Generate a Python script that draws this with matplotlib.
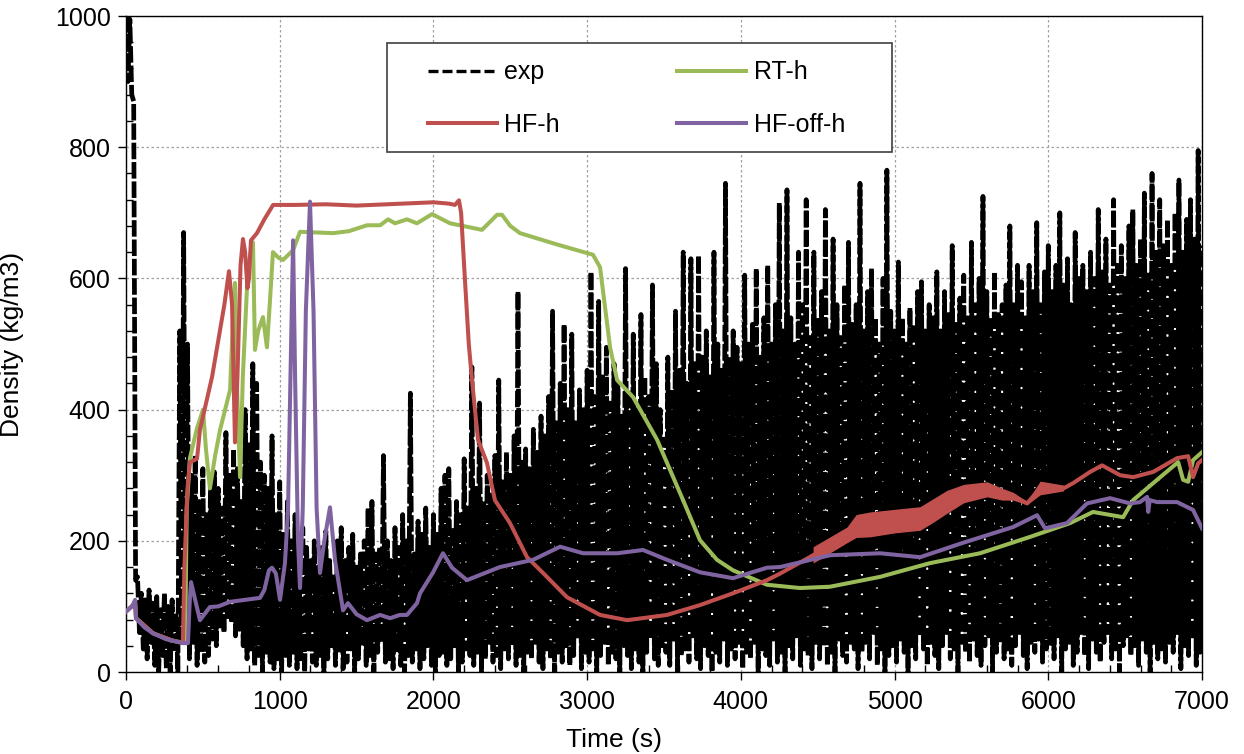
import numpy as np
import matplotlib
matplotlib.use("Agg")
import matplotlib.pyplot as plt
from matplotlib.patches import Rectangle
from matplotlib.ticker import MultipleLocator

plt.rcParams['font.family'] = ['Liberation Sans', 'DejaVu Sans']

# ---------------- data ----------------
exp_step = 25  # s, spacing of read peaks (troughs are in between)
exp_high = [
    1000, 995, 870, 145, 120, 110, 125, 105, 115, 95,
    120, 100, 110, 90, 520, 670, 500, 300, 330, 260,
    310, 240, 290, 305, 280, 250, 365, 300, 340, 310,
    260, 400, 350, 470, 440, 320, 300, 280, 360, 240,
    290, 210, 260, 200, 240, 180, 220, 190, 170, 200,
    160, 190, 215, 170, 150, 200, 220, 170, 190, 210,
    160, 180, 200, 250, 260, 180, 190, 330, 200, 170,
    220, 190, 240, 200, 425, 180, 230, 210, 250, 190,
    240, 210, 280, 300, 310, 220, 260, 240, 325, 250,
    465, 280, 410, 260, 300, 270, 330, 445, 290, 335,
    300, 360, 580, 320, 340, 310, 370, 335, 390, 360,
    420, 550, 380, 440, 530, 400, 515, 380, 430, 400,
    460, 610, 420, 565, 450, 495, 410, 470, 440, 390,
    615, 430, 515, 400, 545, 450, 420, 590, 470, 400,
    355, 480, 430, 550, 460, 640, 440, 630, 470, 635,
    480, 520, 450, 640, 500, 460, 745, 480, 520, 495,
    470, 605, 500, 530, 615, 480, 540, 620, 500, 560,
    715, 520, 735, 540, 500, 640, 560, 720, 510, 640,
    540, 580, 705, 520, 660, 560, 510, 590, 655, 530,
    560, 745, 520, 580, 615, 540, 500, 600, 765, 550,
    520, 625, 540, 500, 555, 530, 580, 595, 520, 560,
    540, 610, 520, 580, 545, 650, 530, 570, 605, 540,
    655, 560, 600, 725, 580, 540, 610, 545, 560, 590,
    680, 560, 620, 595, 540, 620, 580, 685, 560, 610,
    650, 580, 620, 700, 590, 630, 560, 670, 600, 620,
    580, 640, 600, 705, 610, 660, 590, 720, 620, 650,
    600, 680, 705, 620, 660, 730, 610, 760, 640, 720,
    650, 690, 620, 700, 750, 640, 690, 720, 660, 795,
    650,
]
exp_low = [
    900, 880, 140, 60, 35, 20, 45, 10, 0, 25,
    5, 0, 30, 0, 40, 60, 20, 45, 10, 30,
    15, 25, 50, 40, 70, 60, 80, 75, 55, 65,
    40, 20, 35, 10, 25, 0, 30, 15, 5, 20,
    0, 25, 10, 30, 5, 20, 0, 35, 15, 10,
    25, 0, 20, 40, 10, 30, 5, 15, 35, 0,
    20, 40, 10, 25, 0, 30, 45, 15, 20, 5,
    30, 10, 0, 25, 15, 35, 5, 20, 40, 10,
    0, 25, 30, 10, 20, 40, 0, 15, 35, 25,
    10, 30, 0, 20, 45, 15, 25, 5, 35, 20,
    40, 10, 25, 0, 30, 20, 45, 15, 5, 35,
    20, 0, 30, 15, 40, 10, 25, 50, 5, 30,
    15, 35, 0, 25, 45, 10, 30, 20, 0, 40,
    25, 5, 35, 15, 0, 30, 50, 20, 10, 40,
    30, 10, 45, 0, 25, 35, 15, 55, 20, 5,
    40, 25, 0, 30, 15, 50, 10, 35, 20, 45,
    5, 30, 20, 45, 0, 35, 25, 10, 50, 15,
    30, 0, 40, 20, 55, 10, 35, 25, 5, 45,
    20, 40, 10, 30, 0, 50, 25, 15, 45, 35,
    5, 30, 45, 20, 60, 10, 35, 0, 25, 40,
    15, 50, 30, 0, 40, 20, 55, 35, 10, 45,
    25, 5, 40, 60, 20, 35, 0, 45, 30, 15,
    50, 25, 10, 40, 55, 0, 30, 45, 20, 35,
    10, 40, 60, 25, 5, 45, 30, 50, 15, 35,
    40, 20, 55, 0, 35, 45, 10, 30, 60, 25,
    5, 50, 30, 15, 45, 60, 20, 35, 0, 40,
    55, 25, 40, 10, 50, 30, 0, 45, 20, 35,
    15, 45, 30, 60, 5, 40, 25, 50, 10, 30,
]

rt_t = [0, 59, 65, 176, 300, 385, 395, 416, 460, 501, 520, 546, 580, 612, 677, 700,
        709, 720, 742, 760, 794, 826, 839, 860, 891, 917, 935, 956, 990, 1021, 1087,
        1132, 1347, 1450, 1568, 1653, 1705, 1750, 1828, 1893, 1991, 2108, 2316, 2414,
        2446, 2500, 2563, 2800, 3038, 3084, 3149, 3195, 3299, 3455, 3624, 3734, 3845,
        3949, 4170, 4385, 4580, 4905, 5231, 5556, 5882, 6142, 6291, 6487, 6552, 6708,
        6845, 6877, 6910, 6942, 7000]
rt_v = [92, 105, 82, 59, 48, 44, 250, 326, 370, 400, 340, 280, 330, 369, 430, 560,
        593, 450, 297, 450, 620, 655, 491, 520, 541, 495, 560, 640, 632, 628, 643,
        671, 669, 672, 681, 681, 690, 684, 690, 684, 698, 684, 674, 697,
        697, 680, 669, 652, 636, 617, 495, 445, 419, 354, 262, 201, 171,
        155, 133, 128, 130, 145, 166, 181, 206, 227, 244, 236, 262, 293,
        320, 293, 290, 323, 335]

hf_t = [0, 59, 65, 176, 300, 370, 380, 400, 416, 462, 481, 560, 640, 670, 690, 709,
        725, 745, 761, 775, 790, 800, 813, 852, 900, 957, 1100, 1300, 1500, 1700,
        1900, 2000, 2100, 2140, 2166, 2180, 2205, 2230, 2251, 2290, 2348, 2400, 2498,
        2609, 2713, 2869, 3084, 3260, 3520, 3734, 3949, 4170, 4255, 4470, 4690, 4750,
        4840, 5000, 5166, 5250, 5341, 5450, 5602, 5700, 5771, 5862, 5947, 6100, 6162,
        6272, 6350, 6467, 6552, 6682, 6838, 6910, 6942, 6975, 7000]
hf_v = [92, 105, 82, 59, 48, 44, 160, 280, 320, 325, 369, 450, 560, 611, 560, 350,
        450, 620, 660, 640, 585, 600, 658, 669, 690, 712, 712, 713, 711, 713,
        715, 716, 714, 712, 719, 700, 598, 500, 445, 354, 319, 262, 227,
        175, 151, 114, 87, 79, 87, 102, 120, 140, 150, 178, 209, 222,
        225, 230, 234, 246, 260, 272, 278, 271, 268, 257, 280, 280, 288,
        305, 315, 300, 297, 305, 326, 329, 297, 318, 323]
# oscillation band of HF-h (lower / upper envelope)
hf_band_t = [4470, 4690, 4750, 4840, 5000, 5166, 5250, 5341, 5450, 5602, 5700, 5771,
             5862, 5947, 6100]
hf_band_lo = [166, 197, 205, 206, 212, 216, 228, 242, 258, 267, 262, 262,
              255, 270, 276]
hf_band_hi = [191, 221, 240, 244, 248, 252, 264, 277, 286, 290, 280, 274,
              260, 291, 285]

off_t = [0, 40, 59, 65, 120, 176, 260, 371, 403, 415, 423, 450, 481, 510, 546, 600,
         677, 872, 900, 930, 950, 975, 1002, 1034, 1054, 1070, 1087, 1100, 1119, 1132,
         1150, 1170, 1197, 1220, 1240, 1262, 1290, 1327, 1360, 1412, 1444, 1500, 1568,
         1653, 1718, 1782, 1828, 1893, 1913, 1998, 2062, 2121, 2218, 2433, 2648, 2824,
         2973, 3195, 3364, 3520, 3734, 3949, 4170, 4255, 4580, 4905, 5166, 5446, 5771,
         5927, 5979, 6122, 6252, 6402, 6532, 6597, 6643, 6650, 6660, 6708, 6838, 6942,
         7000]
off_v = [92, 100, 110, 82, 68, 59, 50, 44, 44, 110, 137, 110, 79, 88, 99, 100,
         107, 113, 125, 155, 159, 150, 110, 166, 247, 450, 658, 450, 200, 128,
         250, 550, 717, 550, 250, 151, 200, 251, 170, 94, 105, 88, 79,
         87, 82, 87, 87, 105, 120, 152, 181, 159, 140, 160, 171, 191,
         181, 181, 186, 171, 152, 143, 159, 160, 178, 181, 175, 197, 221,
         239, 219, 227, 257, 265, 257, 259, 267, 244, 262, 259, 259, 247,
         219]

x_ticks = [0, 1000, 2000, 3000, 4000, 5000, 6000, 7000]
y_ticks = [0, 200, 400, 600, 800, 1000]

# ---------------- figure ----------------
W, H = 1244, 754
fig = plt.figure(figsize=(W / 100, H / 100), dpi=100)
ax = fig.add_axes([126 / W, 1 - 672 / H, (1202 - 126) / W, (672 - 16) / H])

# exp series: peaks and troughs interleaved
high_t = np.arange(len(exp_high)) * exp_step
low_t = np.arange(len(exp_low)) * exp_step + exp_step / 2
exp_t = np.empty(len(high_t) + len(low_t))
exp_v = np.empty_like(exp_t)
exp_t[0::2] = high_t
exp_t[1::2] = low_t
exp_v[0::2] = exp_high
exp_v[1::2] = exp_low

RED, GREEN, PURPLE = '#C0504D', '#9BBB59', '#8064A2'

l_exp, = ax.plot(exp_t, exp_v, color='black', lw=3.4, linestyle=(0, (3.5, 0.6)),
                 zorder=3, label='exp')
l_rt, = ax.plot(rt_t, rt_v, color=GREEN, lw=2.9, zorder=4, label='RT-h')
ax.fill_between(hf_band_t, hf_band_lo, hf_band_hi, color=RED, lw=0, zorder=5)
l_hf, = ax.plot(hf_t, hf_v, color=RED, lw=2.9, zorder=5, label='HF-h')
l_off, = ax.plot(off_t, off_v, color=PURPLE, lw=2.9, zorder=6, label='HF-off-h')

ax.set_xlim(0, 7000)
ax.set_ylim(0, 1000)
ax.set_xticks(x_ticks)
ax.set_yticks(y_ticks)
ax.xaxis.set_minor_locator(MultipleLocator(200))
ax.yaxis.set_minor_locator(MultipleLocator(40))
ax.tick_params(which='major', direction='out', length=6, width=1, labelsize=18,
               colors='black')
ax.tick_params(axis='x', which='major', pad=7)
ax.tick_params(axis='y', which='major', pad=5)
ax.tick_params(which='minor', direction='in', length=5, width=1)
for s in ax.spines.values():
    s.set_color('black')
    s.set_linewidth(1)

ax.grid(True, which='major', color='#a0a0a0', linestyle=(0, (2, 2)), lw=0.9)
ax.set_axisbelow(True)

ax.set_xlabel('Time (s)', fontsize=19)
ax.xaxis.set_label_coords(0.4535, -0.085)
ax.set_ylabel('Density (kg/m3)', fontsize=19)
ax.yaxis.set_label_coords(-0.095, 0.5)

# legend box
ax.add_patch(Rectangle((0.2426, 0.7927), 0.4694, 0.1663, transform=ax.transAxes,
                       facecolor='white', edgecolor='#404040', lw=1.2, zorder=9))
leg = ax.legend([l_exp, l_hf, l_rt, l_off], ['exp', 'HF-h', 'RT-h', 'HF-off-h'],
                ncol=2, frameon=False, borderpad=0, borderaxespad=0,
                loc='center left', bbox_to_anchor=(0.2807, 0.874),
                fontsize=18, handlelength=2.75, handletextpad=0.3,
                columnspacing=4.7, labelspacing=1.15)
leg.set_zorder(10)
leg.get_lines()[0].set_linewidth(2.4)
leg.get_lines()[0].set_linestyle((0, (3, 1.2)))

fig.savefig('out.png', dpi=100)
